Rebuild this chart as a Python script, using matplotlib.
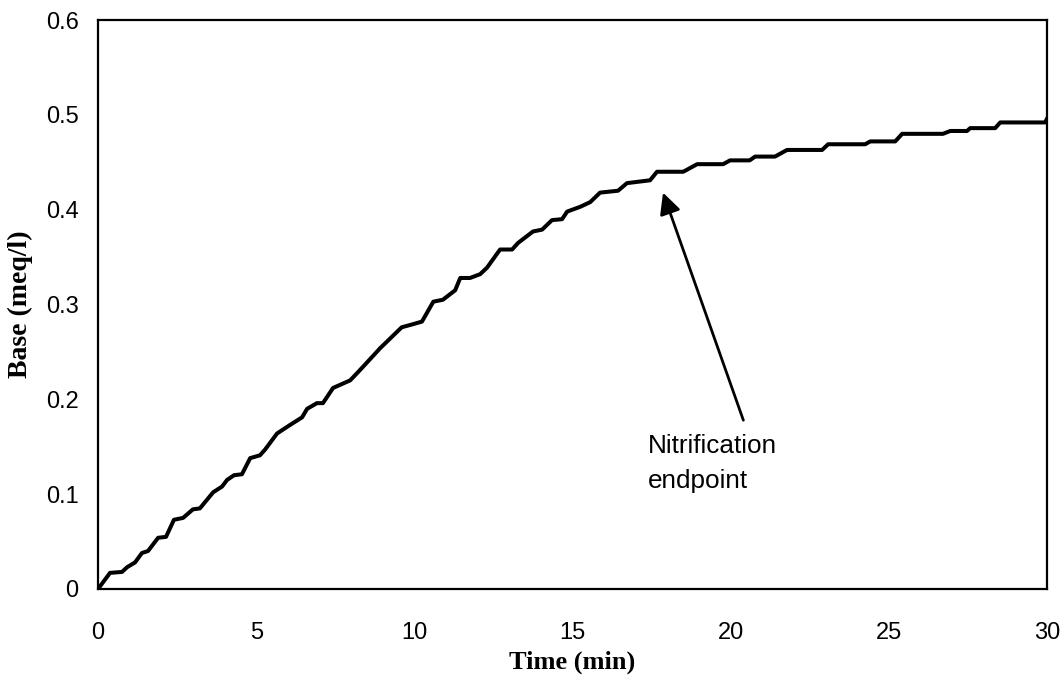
import matplotlib
matplotlib.use('Agg')
import matplotlib.pyplot as plt

# tiempo (min) y base añadida (meq/l)
tiempo = [0, 0.38, 0.76, 0.92, 1.17, 1.39, 1.58, 1.9, 2.15, 2.4, 2.69, 3.0, 3.22,
          3.64, 3.92, 4.08, 4.3, 4.55, 4.81, 5.12, 5.28, 5.66, 6.07, 6.45, 6.61,
          6.92, 7.11, 7.43, 7.97, 8.2, 8.45, 8.7, 8.92, 9.23, 9.6, 9.93, 10.24,
          10.6, 10.9, 11.29, 11.45, 11.76, 12.08, 12.3, 12.71, 13.09, 13.28,
          13.75, 14.04, 14.35, 14.67, 14.83, 15.24, 15.56, 15.87, 16.44, 16.72,
          17.45, 17.67, 18.5, 18.94, 19.76, 19.98, 20.6, 20.77, 21.4, 21.78,
          22.89, 23.08, 24.25, 24.41, 25.2, 25.42, 26.71, 26.94, 27.47, 27.57,
          28.36, 28.52, 29.94, 30.0]
base = [0, 0.017, 0.018, 0.023, 0.028, 0.038, 0.040, 0.054, 0.055, 0.073, 0.075,
        0.084, 0.085, 0.102, 0.108, 0.115, 0.120, 0.121, 0.138, 0.141, 0.147,
        0.164, 0.173, 0.181, 0.190, 0.196, 0.196, 0.212, 0.220, 0.228, 0.237,
        0.246, 0.254, 0.264, 0.276, 0.279, 0.282, 0.303, 0.305, 0.315, 0.328,
        0.328, 0.332, 0.339, 0.358, 0.358, 0.365, 0.377, 0.379, 0.389, 0.390,
        0.398, 0.403, 0.408, 0.418, 0.420, 0.428, 0.431, 0.440, 0.440, 0.448,
        0.448, 0.452, 0.452, 0.456, 0.456, 0.463, 0.463, 0.469, 0.469, 0.472,
        0.472, 0.480, 0.480, 0.483, 0.483, 0.486, 0.486, 0.492, 0.492, 0.496]

xticks = [0, 5, 10, 15, 20, 25, 30]
yticks = [0, 0.1, 0.2, 0.3, 0.4, 0.5, 0.6]
yticklabels = ['0', '0.1', '0.2', '0.3', '0.4', '0.5', '0.6']

fig = plt.figure(figsize=(10.63, 6.86), dpi=100)
ax = fig.add_axes([0.0922, 0.1414, 0.8928, 0.8294])

ax.plot(tiempo, base, color='k', lw=2.9, solid_joinstyle='round')

ax.set_xlim(0, 30)
ax.set_ylim(0, 0.6)
ax.set_xticks(xticks)
ax.set_yticks(yticks)
ax.set_yticklabels(yticklabels)
ax.tick_params(length=0, labelsize=17)
ax.tick_params(axis='x', pad=24)
ax.tick_params(axis='y', pad=14)
for lab in ax.get_xticklabels() + ax.get_yticklabels():
    lab.set_fontfamily('Liberation Sans')
for sp in ax.spines.values():
    sp.set_linewidth(1.6)

ax.set_xlabel('Time (min)', fontsize=19, fontweight='bold',
              fontfamily='Liberation Serif', va='center')
ax.xaxis.set_label_coords(0.5, -0.128)
ax.set_ylabel('Base (meq/l)', fontsize=20, fontweight='bold',
              fontfamily='Liberation Serif', va='center')
ax.yaxis.set_label_coords(-0.082, 0.5)

# flecha del punto final de nitrificación
ax.annotate('', xy=(17.86, 0.418), xytext=(20.4, 0.178),
            arrowprops=dict(arrowstyle='-|>', color='k', lw=2,
                            mutation_scale=32, shrinkA=0, shrinkB=0))
ax.text(17.39, 0.163, 'Nitrification\nendpoint', fontsize=18.8,
        fontfamily='Liberation Sans', ha='left', va='top', linespacing=1.55)

fig.savefig('out.png', dpi=100)
